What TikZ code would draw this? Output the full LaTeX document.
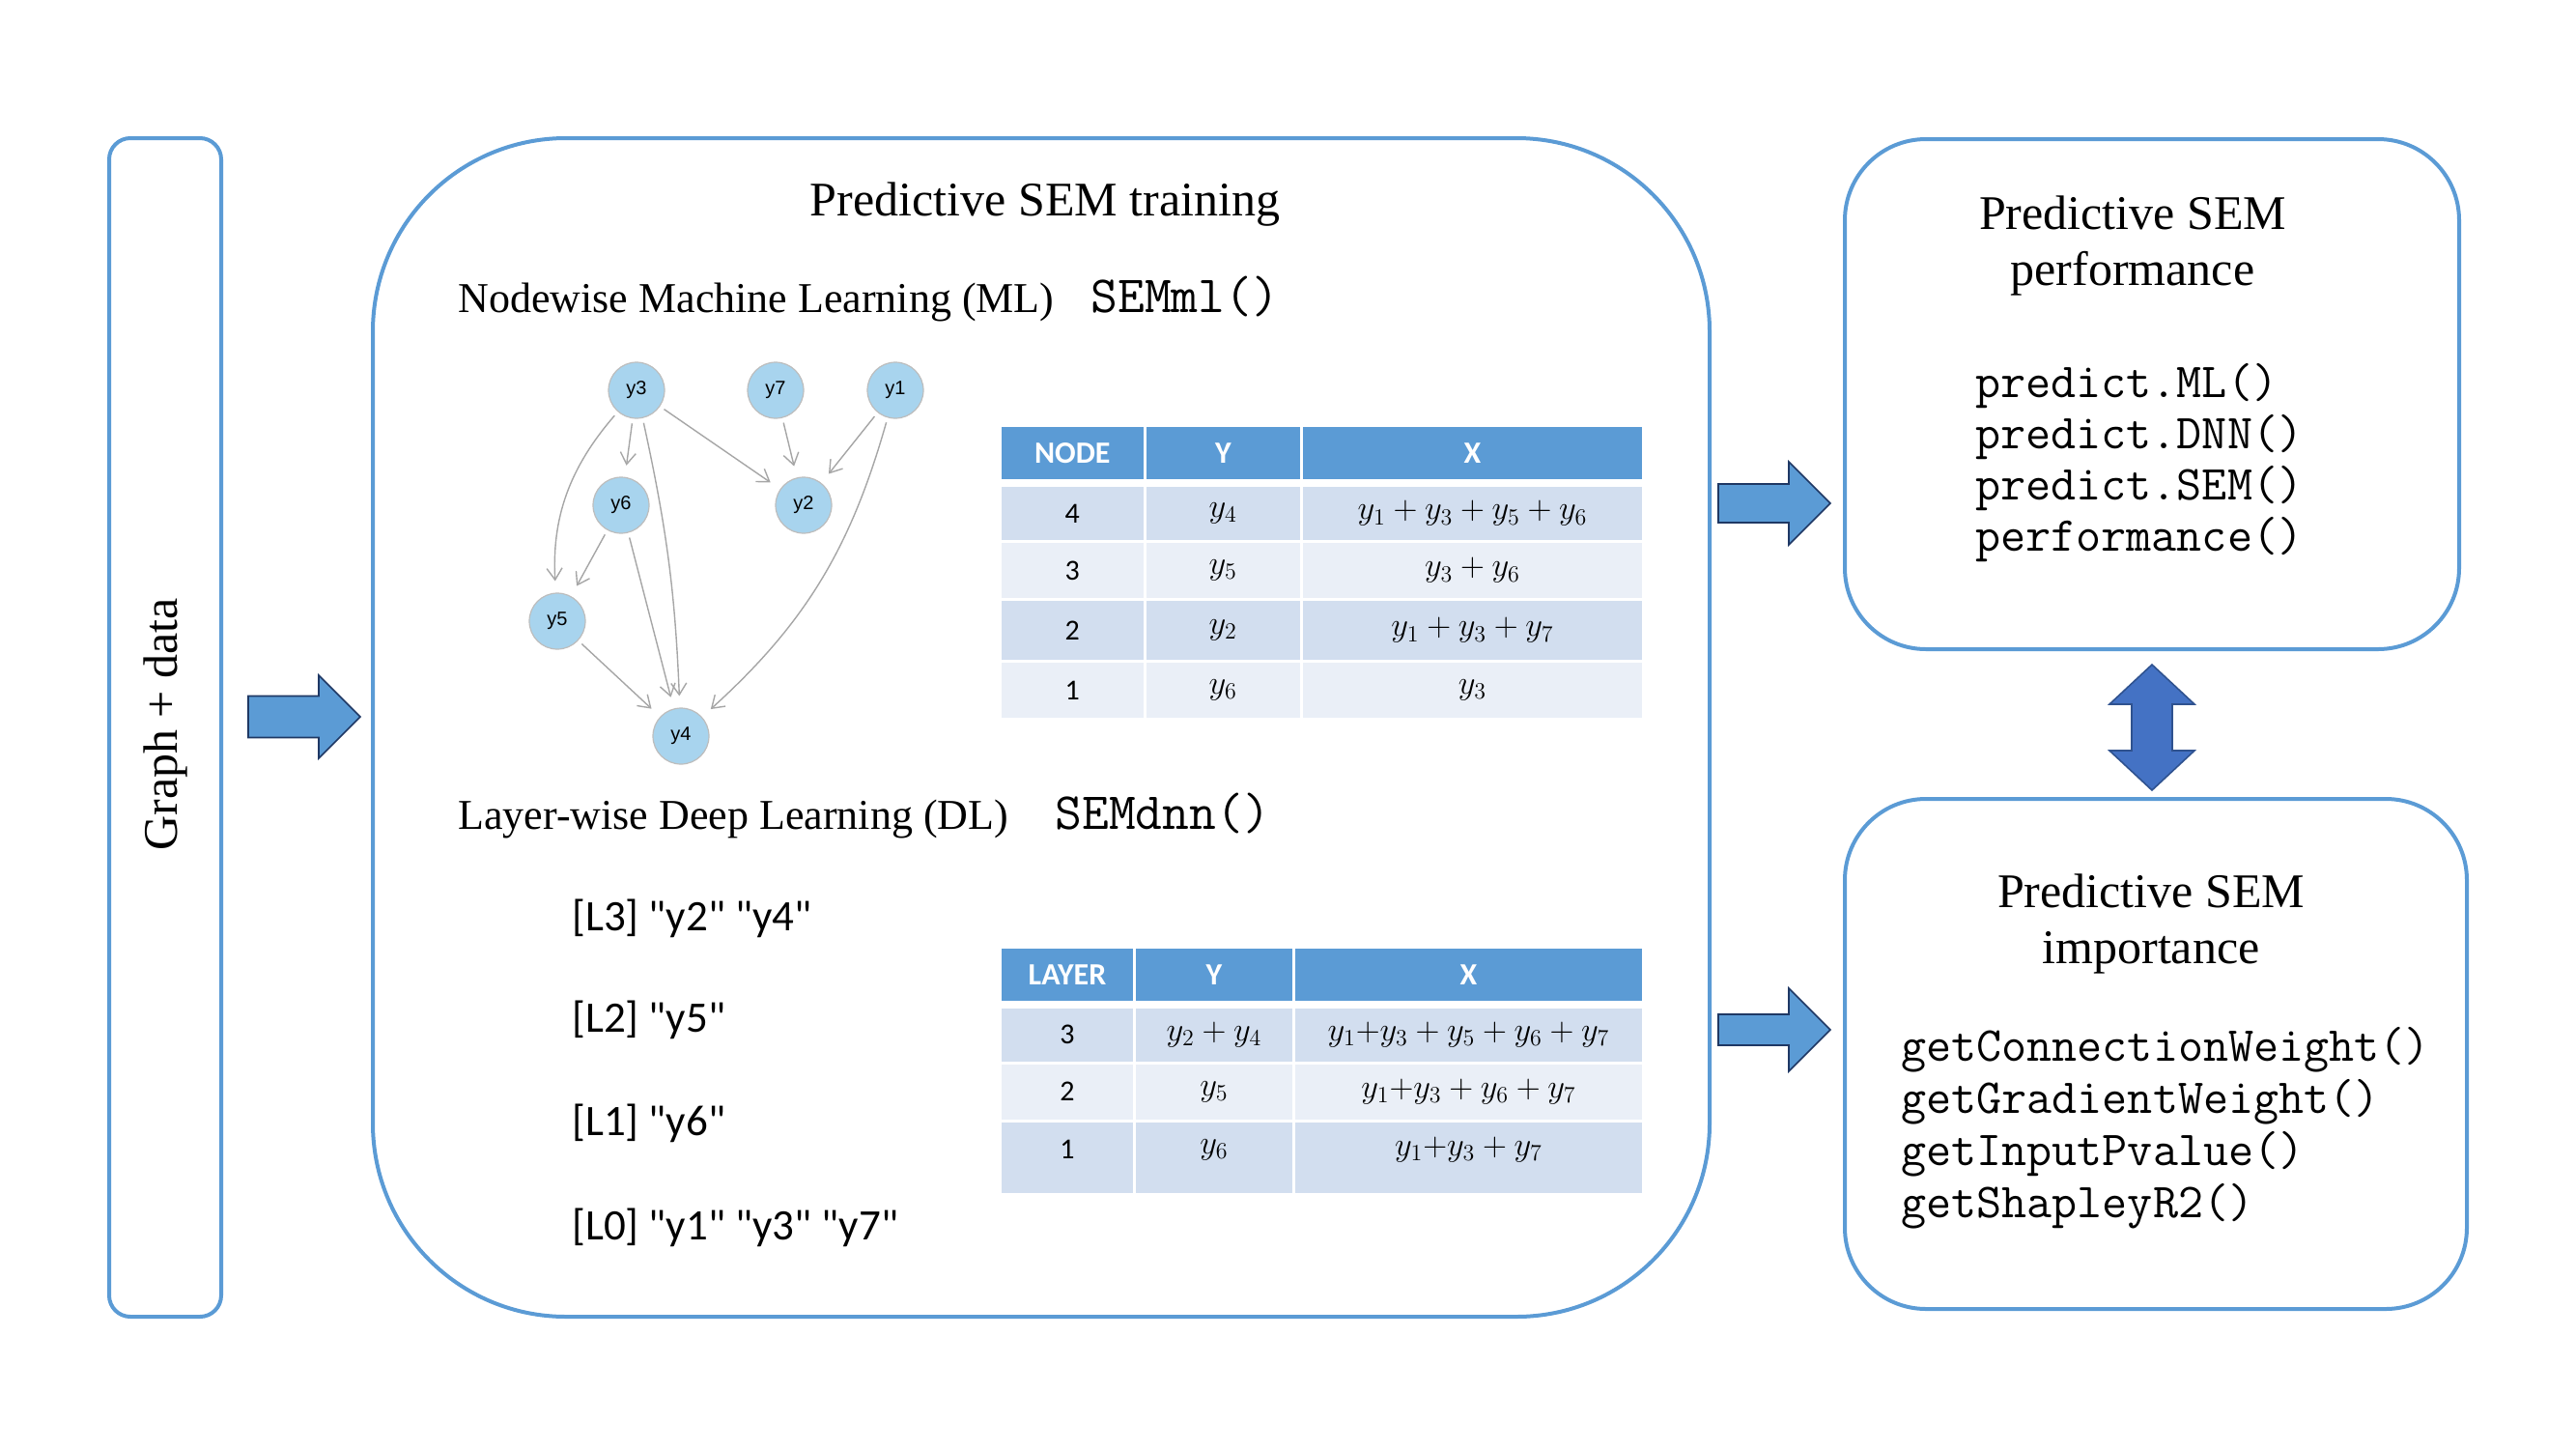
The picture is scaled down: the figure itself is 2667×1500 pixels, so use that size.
\documentclass[tikz,border=0pt]{standalone}
\usepackage{fontspec}
\setmainfont{Liberation Serif}
\newfontfamily\calibrifont{Carlito}
\newfontfamily\arialfont{Liberation Sans}
\usetikzlibrary{arrows.meta,positioning}

\definecolor{boxblue}{HTML}{5B9BD5}
\definecolor{rowdark}{HTML}{D2DEEF}
\definecolor{rowlight}{HTML}{EAEFF7}
\definecolor{vertexblue}{HTML}{A8D4EE}
\definecolor{vertexline}{HTML}{BDBDBD}
\definecolor{edgegray}{HTML}{A6A6A6}
\definecolor{arrowline}{HTML}{1F3864}
\definecolor{dblblue}{HTML}{4472C4}
\definecolor{dblline}{HTML}{2F528F}

\tikzset{
  panel/.style={draw=boxblue, line width=2pt},
  title/.style={font=\fontsize{25}{29}\selectfont, align=center},
  subtitle/.style={font=\fontsize{22}{26}\selectfont, anchor=base west, inner sep=0pt},
  fun/.style={font=\ttfamily\fontsize{27}{31}\selectfont, anchor=base west, inner sep=0pt},
  code/.style={font=\ttfamily\fontsize{25.3}{29}\selectfont, anchor=base west, inner sep=0pt},
  layer/.style={font=\calibrifont\fontsize{22.5}{27}\selectfont, anchor=base west, inner sep=0pt},
  vertex/.style={circle, draw=vertexline, line width=0.6pt, fill=vertexblue,
    minimum size=29pt, inner sep=0pt, font=\arialfont\fontsize{10}{12}\selectfont},
  dep/.style={draw=edgegray, line width=0.7pt, -{Straight Barb[length=6pt,width=8pt]},
    shorten <=2.5pt, shorten >=6pt},
  hcell/.style={font=\calibrifont\bfseries\fontsize{16}{19}\selectfont, text=white},
  bcell/.style={font=\calibrifont\fontsize{15}{18}\selectfont},
  mcell/.style={font=\fontsize{18.5}{21}\selectfont},
  blockarrow/.style={fill=boxblue, draw=arrowline, line width=0.8pt, line join=miter},
  dblarrow/.style={fill=dblblue, draw=dblline, line width=0.8pt, line join=miter},
}

\begin{document}
\begin{tikzpicture}[x=0.5pt, y=-0.5pt]
  \useasboundingbox (0,0) rectangle (2667,1500);

  % panels
  \node[panel, rounded corners=11pt, minimum width=58pt, minimum height=610pt] (input) at (171,753) {};
  \node[font=\fontsize{25}{29}\selectfont, rotate=90] (input-label) at (171,750) {Graph + data};
  \node[panel, rounded corners=100pt, minimum width=692pt, minimum height=610pt] (train) at (1078,753) {};
  \node[panel, rounded corners=42pt, minimum width=318pt, minimum height=264pt] (perf) at (2228,408) {};
  \node[panel, rounded corners=42pt, minimum width=322pt, minimum height=264pt] (imp) at (2232,1091) {};

  % block arrows
  \foreach \x/\y/\s in {257/742/21.5, 1779/521/20, 1779/1066/16}
    \draw[blockarrow] (\x,\y-\s) -- (\x+73,\y-\s) -- (\x+73,\y-43) -- (\x+116,\y)
      -- (\x+73,\y+43) -- (\x+73,\y+\s) -- (\x,\y+\s) -- cycle;
  \draw[dblarrow] (2228,688) -- (2272,729) -- (2249,729) -- (2249,777) -- (2272,777)
    -- (2228,818) -- (2184,777) -- (2207,777) -- (2207,729) -- (2184,729) -- cycle;

  % training panel
  \node[font=\fontsize{25}{29}\selectfont, anchor=base] (train-title) at (1082,223) {Predictive SEM training};
  \node[subtitle] (ml-title) at (474,323) {Nodewise Machine Learning (ML)};
  \node[fun] (ml-fun) at (1129,323) {SEMml()};
  \node[subtitle] (dl-title) at (474,858) {Layer-wise Deep Learning (DL)};
  \node[fun] (dl-fun) at (1092,858) {SEMdnn()};

  % graph
  \node[vertex] (y3) at (659,404) {y3};
  \node[vertex] (y7) at (803,404) {y7};
  \node[vertex] (y1) at (927,404) {y1};
  \node[vertex] (y6) at (643,523) {y6};
  \node[vertex] (y2) at (832,523) {y2};
  \node[vertex] (y5) at (577,643) {y5};
  \node[vertex] (y4) at (705,762) {y4};
  \draw[dep] (y3) to[bend right=22] (y5);
  \draw[dep] (y3) -- (y6);
  \draw[dep] (y3) to[bend left=5] (y4);
  \draw[dep] (y3) -- (y2);
  \draw[dep] (y7) -- (y2);
  \draw[dep] (y1) -- (y2);
  \draw[dep] (y1) to[bend left=16] (y4);
  \draw[dep] (y6) -- (y5);
  \draw[dep] (y6) -- (y4);
  \draw[dep] (y5) -- (y4);

  % node table
  \fill[boxblue] (1037,442) rectangle (1183.6,496);
  \fill[boxblue] (1186.6,442) rectangle (1346,496);
  \fill[boxblue] (1349,442) rectangle (1700,496);
  \node[hcell] (ml-0-1) at (1110.3,469) {NODE};
  \node[hcell] (ml-0-2) at (1266.3,469) {Y};
  \node[hcell] (ml-0-3) at (1524.5,469) {X};
  \foreach \r/\yt/\yb/\tint/\idx/\lhs/\rhs in {
      1/504/559/rowdark/4/{$y_4$}/{$y_1+y_3+y_5+y_6$},
      2/562/619/rowlight/3/{$y_5$}/{$y_3+y_6$},
      3/622/683/rowdark/2/{$y_2$}/{$y_1+y_3+y_7$},
      4/686/743/rowlight/1/{$y_6$}/{$y_3$}}{
    \fill[\tint] (1037,\yt) rectangle (1183.6,\yb);
    \fill[\tint] (1186.6,\yt) rectangle (1346,\yb);
    \fill[\tint] (1349,\yt) rectangle (1700,\yb);
    \node[bcell] (ml-\r-1) at (1110.3,{(\yt+\yb)/2}) {\idx};
    \node[mcell] (ml-\r-2) at (1266.3,{(\yt+\yb)/2}) {\lhs};
    \node[mcell] (ml-\r-3) at (1524.5,{(\yt+\yb)/2}) {\rhs};
  }

  % layers
  \foreach \lab/\yb [count=\i] in {{[L3] "y2" "y4"}/963, {[L2] "y5"}/1068,
      {[L1] "y6"}/1175, {[L0] "y1" "y3" "y7"}/1283}
    \node[layer] (layer-\i) at (592,\yb) {\lab};

  % layer table
  \fill[boxblue] (1037,982) rectangle (1172.8,1036);
  \fill[boxblue] (1175.7,982) rectangle (1338,1036);
  \fill[boxblue] (1341,982) rectangle (1700,1036);
  \node[hcell] (dl-0-1) at (1105,1009) {LAYER};
  \node[hcell] (dl-0-2) at (1257,1009) {Y};
  \node[hcell] (dl-0-3) at (1520.5,1009) {X};
  \foreach \r/\yt/\yb/\yc/\tint/\idx/\lhs/\rhs in {
      1/1044/1099/1071/rowdark/3/{$y_2+y_4$}/{$y_1{+}y_3+y_5+y_6+y_7$},
      2/1102/1159/1130/rowlight/2/{$y_5$}/{$y_1{+}y_3+y_6+y_7$},
      3/1162/1235/1190/rowdark/1/{$y_6$}/{$y_1{+}y_3+y_7$}}{
    \fill[\tint] (1037,\yt) rectangle (1172.8,\yb);
    \fill[\tint] (1175.7,\yt) rectangle (1338,\yb);
    \fill[\tint] (1341,\yt) rectangle (1700,\yb);
    \node[bcell] (dl-\r-1) at (1105,\yc) {\idx};
    \node[mcell] (dl-\r-2) at (1257,\yc) {\lhs};
    \node[mcell] (dl-\r-3) at (1520.5,\yc) {\rhs};
  }

  % performance panel
  \node[title] (perf-title) at (2208,254) {Predictive SEM\\performance};
  \foreach \fn [count=\i] in {predict.ML(), predict.DNN(), predict.SEM(), performance()}
    \node[code] (perf-\i) at (2045,{411+53.3*(\i-1)}) {\fn};

  % importance panel
  \node[title] (imp-title) at (2227,956) {Predictive SEM\\importance};
  \foreach \fn [count=\i] in {getConnectionWeight(), getGradientWeight(), getInputPvalue(), getShapleyR2()}
    \node[code] (imp-\i) at (1968,{1098+54*(\i-1)}) {\fn};
\end{tikzpicture}
\end{document}
